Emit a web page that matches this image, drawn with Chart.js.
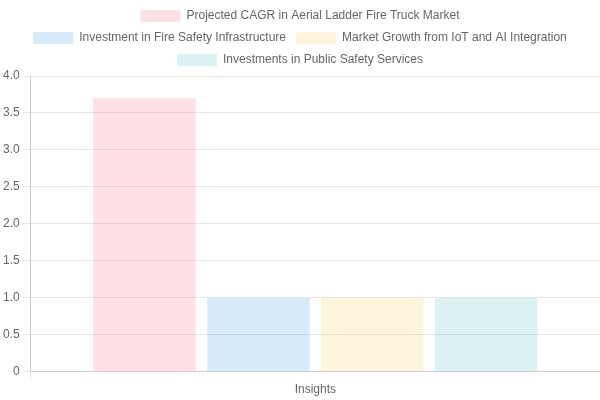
<!DOCTYPE html>
<html>
<head>
<meta charset="utf-8">
<script src="https://cdn.jsdelivr.net/npm/chart.js@4"></script>
<style>
  html, body { margin: 0; padding: 0; background: #fff; }
  #wrap { width: 600px; height: 400px; }
</style>
</head>
<body>
<div id="wrap"><canvas id="insightsChart"></canvas></div>
<script>
const categories = ['Insights'];

const seriesNames = [
  'Projected CAGR in Aerial Ladder Fire Truck Market',
  'Investment in Fire Safety Infrastructure',
  'Market Growth from IoT and AI Integration',
  'Investments in Public Safety Services'
];

const cagrValues = [3.7];
const infrastructureValues = [1];
const iotAiValues = [1];
const publicSafetyValues = [1];

const fillColors = [
  'rgba(255, 99, 132, 0.2)',
  'rgba(54, 162, 235, 0.2)',
  'rgba(255, 206, 86, 0.2)',
  'rgba(75, 192, 192, 0.2)'
];

const allValues = [cagrValues, infrastructureValues, iotAiValues, publicSafetyValues];

const ctx = document.getElementById('insightsChart').getContext('2d');

new Chart(ctx, {
  type: 'bar',
  data: {
    labels: categories,
    datasets: seriesNames.map((name, i) => ({
      label: name,
      data: allValues[i],
      backgroundColor: fillColors[i],
      borderColor: fillColors[i],
      borderWidth: 0
    }))
  },
  options: {
    responsive: true,
    maintainAspectRatio: false,
    animation: false,
    scales: {
      y: {
        beginAtZero: true,
        max: 4
      }
    },
    plugins: {
      legend: { display: true }
    }
  }
});
</script>
</body>
</html>
